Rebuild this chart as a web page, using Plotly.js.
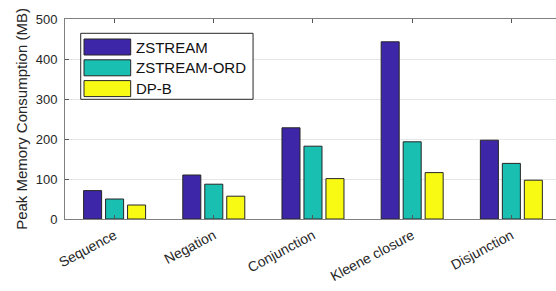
<!DOCTYPE html>
<html>
<head>
<meta charset="utf-8">
<script src="https://cdn.plot.ly/plotly-3.0.1.min.js"></script>
<style>html,body{margin:0;padding:0;background:#fff;overflow:hidden;}#chart{width:556px;height:291px;}</style>
</head>
<body>
<div id="chart"></div>
<script>
const categories = ["Sequence", "Negation", "Conjunction", "Kleene closure", "Disjunction"];
const seriesNames = ["ZSTREAM", "ZSTREAM-ORD", "DP-B"];
const zstream = [71, 110, 228, 443, 197];
const zstreamOrd = [50, 87, 182, 193, 139];
const dpb = [35, 57, 101, 116, 97];
const yTicks = [0, 100, 200, 300, 400, 500];

const colors = ["#3e26a8", "#19bfb1", "#f9fa14"];
const xIdx = categories.map((c, i) => i + 1);
const values = [zstream, zstreamOrd, dpb];

const traces = values.map((v, k) => ({
  type: "bar",
  name: seriesNames[k],
  x: xIdx,
  y: v,
  marker: {color: colors[k], line: {color: "#262626", width: 1}},
  hoverinfo: "skip",
  showlegend: false
}));

// Legend drawn as layout decoration (box, swatches, labels) in paper coordinates
const legX0 = 0.032, legX1 = 0.383, legY0 = 0.5985, legY1 = 0.9285;
const swX0 = 0.0387, swX1 = 0.1338, rowH = 0.104, swH = 0.08, firstRow = 0.86;
const shapes = [{
  type: "rect", xref: "paper", yref: "paper",
  x0: legX0, x1: legX1, y0: legY0, y1: legY1,
  fillcolor: "#fff", line: {color: "#262626", width: 1}, layer: "above"
}];
const annotations = [];
seriesNames.forEach((n, k) => {
  const yc = firstRow - k * rowH;
  shapes.push({
    type: "rect", xref: "paper", yref: "paper",
    x0: swX0, x1: swX1, y0: yc - swH / 2, y1: yc + swH / 2,
    fillcolor: colors[k], line: {color: "#262626", width: 1}, layer: "above"
  });
  annotations.push({
    xref: "paper", yref: "paper", x: swX1 + 0.006, y: yc,
    xanchor: "left", yanchor: "middle", showarrow: false,
    text: n, font: {size: 15, color: "#111"}
  });
});

const layout = {
  width: 556, height: 291,
  margin: {l: 65, r: 0, t: 19, b: 72, pad: 0},
  paper_bgcolor: "#fff", plot_bgcolor: "#fff",
  barmode: "group", bargap: 0.335, bargroupgap: 0.18,
  font: {family: "Liberation Sans, Arial, sans-serif", color: "#262626", size: 13},
  showlegend: false,
  shapes: shapes,
  annotations: annotations,
  xaxis: {
    range: [0.5, 5.45],
    automargin: false,
    tickvals: xIdx, ticktext: categories,
    tickangle: -28,
    ticks: "inside", ticklen: 4, tickcolor: "#555",
    ticklabelstandoff: 2,
    showline: true, linecolor: "#808080", linewidth: 1,
    mirror: "ticks", showgrid: false, zeroline: false,
    tickfont: {size: 14, color: "#262626"}
  },
  yaxis: {
    range: [0, 500],
    automargin: false,
    tickvals: yTicks,
    ticks: "inside", ticklen: 4, tickcolor: "#555",
    ticklabelstandoff: 4,
    showline: true, linecolor: "#808080", linewidth: 1,
    mirror: false,
    showgrid: true, gridcolor: "#e6e6e6", gridwidth: 1,
    zeroline: false,
    tickfont: {size: 13, color: "#262626"},
    title: {text: "Peak Memory Consumption (MB)", font: {size: 15, color: "#262626"}, standoff: 4}
  }
};

Plotly.newPlot("chart", traces, layout, {displayModeBar: false, staticPlot: true});
</script>
</body>
</html>
